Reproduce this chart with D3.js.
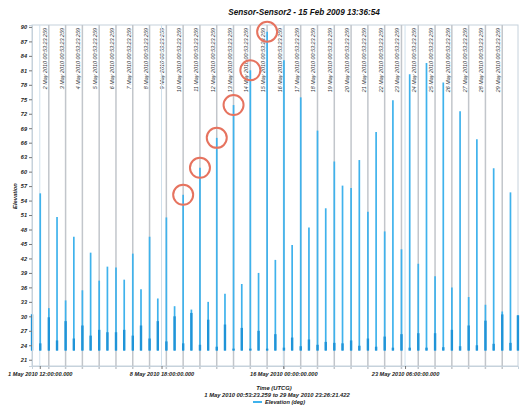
<!DOCTYPE html>
<html>
<head>
<meta charset="utf-8">
<script src="https://cdn.jsdelivr.net/npm/d3@7"></script>
<style>
  html, body { margin: 0; padding: 0; background: #ffffff; }
  svg { display: block; }
  text { font-family: "Liberation Sans", Arial, sans-serif; }
</style>
</head>
<body>
<script>
// ---- chart data -------------------------------------------------------
const chartTitle = "Sensor-Sensor2 - 15 Feb 2009 13:36:54";
const dataStart = "2010-05-01T00:53:23.259Z";
const dataEnd   = "2010-05-29T23:26:21.422Z";
const yTicks = [21, 24, 27, 30, 33, 36, 39, 42, 45, 48, 51, 54, 57, 60, 63, 66, 69, 72, 75, 78, 81, 84, 87, 90];
const xTickTimes  = ["2010-05-01T12:00:00Z", "2010-05-08T18:00:00Z", "2010-05-16T00:00:00Z", "2010-05-23T06:00:00Z"];
const xTickLabels = ["1 May 2010 12:00:00.000", "8 May 2010 18:00:00.000", "16 May 2010 00:00:00.000", "23 May 2010 06:00:00.000"];
// day markers at 00:53:23.259 each day
const markerDays = [2, 3, 4, 5, 6, 7, 8, 9, 10, 11, 12, 13, 14, 15, 16, 17, 18, 19, 20, 21, 22, 23, 24, 25, 26, 27, 28, 29];

// midday passes (time, peak elevation, top of the dense low segment)
const middayTimes = [
  "2010-05-01T12:40Z", "2010-05-02T12:40Z", "2010-05-03T12:40Z", "2010-05-04T12:40Z", "2010-05-05T12:40Z",
  "2010-05-06T12:40Z", "2010-05-07T12:40Z", "2010-05-08T12:40Z", "2010-05-09T12:40Z", "2010-05-10T12:40Z",
  "2010-05-11T12:40Z", "2010-05-12T12:40Z", "2010-05-13T12:40Z", "2010-05-14T12:40Z", "2010-05-15T12:40Z",
  "2010-05-16T12:40Z", "2010-05-17T12:40Z", "2010-05-18T12:40Z", "2010-05-19T12:40Z", "2010-05-20T12:40Z",
  "2010-05-21T12:40Z", "2010-05-22T12:40Z", "2010-05-23T12:40Z", "2010-05-24T12:40Z", "2010-05-25T12:40Z",
  "2010-05-26T12:40Z", "2010-05-27T12:40Z", "2010-05-28T12:40Z", "2010-05-29T12:40Z"];
const middayPeaks = [55.5, 50.6, 46.5, 43.2, 40.3, 37.6, 35.6, 33.7, 32.1, 31.4,
                     33.0, 34.7, 36.7, 39.0, 41.7, 44.8, 48.4, 52.4, 57.1, 62.4,
                     68.2, 74.8, 80.2, 82.5, 78.5, 72.5, 66.7, 60.7, 55.7];
const middayLows  = [24.4, 25.0, 25.4, 26.0, 26.7, 27.2, 28.1, 29.0, 30.0, 30.7,
                     29.3, 28.3, 27.6, 27.0, 26.3, 25.6, 25.2, 24.7, 24.4, 23.9,
                     23.7, 23.5, 23.5, 23.5, 23.6, 23.8, 24.0, 24.3, 24.5];

// night passes
const nightTimes = [
  "2010-05-01T00:56Z", "2010-05-02T00:56Z", "2010-05-03T00:56Z", "2010-05-04T00:56Z", "2010-05-05T00:56Z",
  "2010-05-06T00:56Z", "2010-05-07T00:56Z", "2010-05-08T00:56Z", "2010-05-09T00:56Z", "2010-05-10T00:56Z",
  "2010-05-11T00:56Z", "2010-05-12T00:56Z", "2010-05-13T00:56Z", "2010-05-14T00:56Z", "2010-05-15T00:56Z",
  "2010-05-16T00:56Z", "2010-05-17T00:56Z", "2010-05-18T00:56Z", "2010-05-19T00:56Z", "2010-05-20T00:56Z",
  "2010-05-21T00:56Z", "2010-05-22T00:56Z", "2010-05-23T00:56Z", "2010-05-24T00:56Z", "2010-05-25T00:56Z",
  "2010-05-26T00:56Z", "2010-05-27T00:56Z", "2010-05-28T00:56Z", "2010-05-29T00:56Z", "2010-05-29T23:20Z"];
const nightPeaks = [30.4, 31.7, 33.3, 35.4, 37.4, 40.1, 43.0, 46.5, 50.5, 55.2,
                    60.8, 67.0, 73.8, 81.0, 89.0, 83.1, 75.4, 68.5, 62.1, 56.6,
                    51.7, 47.6, 43.9, 40.9, 38.3, 36.0, 34.0, 32.4, 31.0, 30.2];
const nightLows  = [30.4, 29.8, 29.0, 28.1, 27.2, 26.7, 26.0, 25.4, 24.8, 24.4,
                    24.1, 23.7, 23.3, 23.3, 23.3, 23.5, 23.8, 24.1, 24.5, 25.0,
                    25.4, 25.8, 26.3, 26.5, 26.5, 27.2, 28.1, 29.1, 30.4, 30.2];
const horizonValue = 22.9;
// night passes ringed in red
const ringedPasses = [9, 10, 11, 12, 13, 14];
const legendLabel = "Elevation (deg)";
const yAxisTitle = "Elevation";
const xAxisTitle = "Time (UTCG)";
const rangeText = "1 May 2010 00:53:23.259  to  29 May 2010 23:26:21.422";

// ---- drawing ------------------------------------------------------------
const W = 520, H = 406;
const plot = { left: 32, right: 518, top: 25, bottom: 366 };
const parse = s => new Date(s);

const svg = d3.select("body").append("svg").attr("width", W).attr("height", H);

const x = d3.scaleUtc()
  .domain([parse(dataStart), parse(dataEnd)])
  .range([plot.left, plot.right]);
const y = d3.scaleLinear()
  .domain([19.7, 90.4])
  .range([plot.bottom, plot.top]);

// plot frame
svg.append("rect")
  .attr("x", plot.left).attr("y", plot.top)
  .attr("width", plot.right - plot.left).attr("height", plot.bottom - plot.top)
  .attr("fill", "#ffffff").attr("stroke", "#c6d2dc").attr("stroke-width", 1);

// title
svg.append("text")
  .attr("x", 304).attr("y", 15)
  .attr("text-anchor", "middle")
  .attr("font-size", 8.2).attr("font-weight", "bold").attr("font-style", "italic")
  .attr("fill", "#111")
  .text(chartTitle);

// daily marker lines with their rotated labels
const markers = markerDays.map(d => ({
  t: new Date(Date.UTC(2010, 4, d, 0, 53, 23, 259)),
  label: d + " May 2010 00:53:23.259"
}));
svg.append("g").selectAll("line").data(markers).join("line")
  .attr("x1", d => x(d.t)).attr("x2", d => x(d.t))
  .attr("y1", plot.top).attr("y2", plot.bottom + 3)
  .attr("stroke", "#c2c6cb").attr("stroke-width", 1.5);
svg.append("g").selectAll("text").data(markers).join("text")
  .attr("transform", d => `translate(${x(d.t) - 2},${plot.top + 3}) rotate(-90)`)
  .attr("text-anchor", "end")
  .attr("font-size", 5.4).attr("font-style", "italic")
  .attr("fill", "#33383d")
  .text(d => d.label);

// major x grid at tick positions
svg.append("g").selectAll("line").data(xTickTimes).join("line")
  .attr("x1", d => x(parse(d))).attr("x2", d => x(parse(d)))
  .attr("y1", plot.top).attr("y2", plot.bottom)
  .attr("stroke", "#cfe0ec").attr("stroke-width", 1);

// passes
const passes = [
  ...middayTimes.map((t, i) => ({ t: parse(t), peak: middayPeaks[i], low: middayLows[i] })),
  ...nightTimes.map((t, i) => ({ t: parse(t), peak: nightPeaks[i], low: nightLows[i] }))
];
const gP = svg.append("g");
gP.selectAll("line.peak").data(passes).join("line")
  .attr("class", "peak")
  .attr("x1", d => x(d.t)).attr("x2", d => x(d.t))
  .attr("y1", y(horizonValue)).attr("y2", d => y(d.peak))
  .attr("stroke", "#3fb2ec").attr("stroke-width", 1.7);
gP.selectAll("line.low").data(passes).join("line")
  .attr("class", "low")
  .attr("x1", d => x(d.t)).attr("x2", d => x(d.t))
  .attr("y1", y(horizonValue)).attr("y2", d => y(d.low))
  .attr("stroke", "#1f94d8").attr("stroke-width", 2.4);

// rings
svg.append("g").selectAll("circle").data(ringedPasses).join("circle")
  .attr("cx", i => x(parse(nightTimes[i])))
  .attr("cy", i => y(nightPeaks[i]))
  .attr("r", 10)
  .attr("fill", "none").attr("stroke", "#e6735f").attr("stroke-width", 2);

// y axis
const yAxis = d3.axisLeft(y).tickValues(yTicks).tickSize(3).tickPadding(2);
const gy = svg.append("g").attr("transform", `translate(${plot.left},0)`).call(yAxis);
gy.select(".domain").attr("stroke", "#c6d2dc");
gy.selectAll(".tick line").attr("stroke", "#777");
gy.selectAll(".tick text")
  .attr("font-size", 5.6).attr("font-weight", "bold").attr("font-style", "italic")
  .attr("fill", "#222").attr("font-family", "Liberation Sans, Arial, sans-serif");

svg.append("text")
  .attr("transform", `translate(17,196) rotate(-90)`)
  .attr("text-anchor", "middle")
  .attr("font-size", 5.8).attr("font-weight", "bold").attr("font-style", "italic")
  .attr("fill", "#222")
  .text(yAxisTitle);

// x axis
const xAxis = d3.axisBottom(x).tickValues(xTickTimes.map(parse))
  .tickFormat((d, i) => xTickLabels[i]).tickSize(3).tickPadding(3);
const gx = svg.append("g").attr("transform", `translate(0,${plot.bottom})`).call(xAxis);
gx.select(".domain").attr("stroke", "#c6d2dc");
gx.selectAll(".tick line").attr("stroke", "#777");
gx.selectAll(".tick text")
  .attr("font-size", 5.6).attr("font-weight", "bold").attr("font-style", "italic")
  .attr("fill", "#222").attr("font-family", "Liberation Sans, Arial, sans-serif");

svg.append("text")
  .attr("x", 274).attr("y", 390)
  .attr("text-anchor", "middle")
  .attr("font-size", 5.8).attr("font-weight", "bold").attr("font-style", "italic")
  .attr("fill", "#222")
  .text(xAxisTitle);
svg.append("text")
  .attr("x", 277).attr("y", 397)
  .attr("text-anchor", "middle")
  .attr("font-size", 5.8).attr("font-weight", "bold").attr("font-style", "italic")
  .attr("fill", "#222")
  .text(rangeText);

// legend
const lg = svg.append("g").attr("transform", "translate(253,404)");
lg.append("line").attr("x1", 0).attr("x2", 9).attr("y1", -2).attr("y2", -2)
  .attr("stroke", "#3fb2ec").attr("stroke-width", 2);
lg.append("text").attr("x", 12).attr("y", 0)
  .attr("font-size", 5.6).attr("font-weight", "bold").attr("font-style", "italic")
  .attr("fill", "#222")
  .text(legendLabel);
</script>
</body>
</html>
